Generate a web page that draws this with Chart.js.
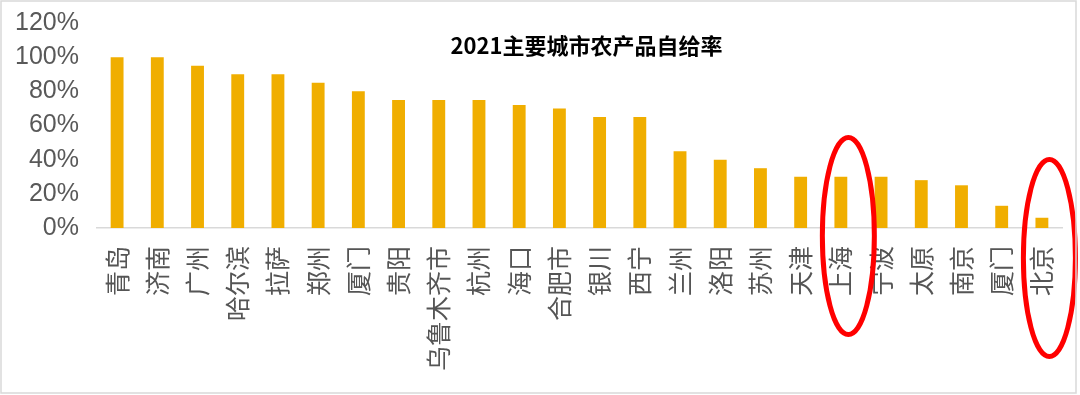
<!DOCTYPE html>
<html>
<head>
<meta charset="utf-8">
<script src="https://cdn.jsdelivr.net/npm/chart.js@4"></script>
<style>
  html, body { margin: 0; padding: 0; background: #fff; }
  #wrap { width: 1080px; height: 395px; position: relative; }
</style>
</head>
<body>
<div id="wrap"><canvas id="myChart" width="1080" height="395"></canvas></div>
<script>
// data
const cities = ['青岛', '济南', '广州', '哈尔滨', '拉萨', '郑州', '厦门', '贵阳', '乌鲁木齐市', '杭州', '海口', '合肥市',
    '银川', '西宁', '兰州', '洛阳', '苏州', '天津', '上海', '宁波', '太原', '南京', '厦门', '北京'];
const selfRate = [100, 100, 95, 90, 90, 85, 80, 75, 75, 75, 72, 70,
    65, 65, 45, 40, 35, 30, 30, 30, 28, 25, 13, 6];
const yTicks = [0, 20, 40, 60, 80, 100, 120];
const chartTitle = '2021主要城市农产品自给率';
// cities circled in red
const highlighted = ['上海', '北京'];

const ctx = document.getElementById('myChart').getContext('2d');

// title, red ellipses and outer frame
const extras = {
    id: 'extras',
    afterDraw(chart) {
        const c = chart.ctx;
        const xs = chart.scales.x;
        const ys = chart.scales.y;
        const area = chart.chartArea;

        c.save();
        c.fillStyle = '#000';
        c.font = 'bold 22px "Noto Sans CJK SC", sans-serif';
        c.textAlign = 'center';
        c.textBaseline = 'middle';
        c.fillText(chartTitle, (area.left + area.right) / 2 + 7, ys.getPixelForValue(106.5));

        c.strokeStyle = '#ff0000';
        c.lineWidth = 5;
        highlighted.forEach(name => {
            const i = cities.lastIndexOf(name);
            const cx = xs.getPixelForValue(i) + 7.5;
            const cy = ys.getPixelForValue(0) + 8 + (i === cities.length - 1 ? 22 : 0);
            c.beginPath();
            c.ellipse(cx, cy, 26, 98.5, 0, 0, Math.PI * 2);
            c.stroke();
        });

        c.strokeStyle = '#d9d9d9';
        c.lineWidth = 1.5;
        c.strokeRect(1, 1, 1075, 392);
        c.restore();
    }
};

const data = {
    labels: cities,
    datasets: [{
        label: chartTitle,
        data: selfRate,
        backgroundColor: '#f0ae00',
        barPercentage: 0.32,
        categoryPercentage: 1
    }]
};

const config = {
    type: 'bar',
    data: data,
    options: {
        responsive: false,
        animation: false,
        layout: { padding: { left: 0, right: 18, top: 23, bottom: 0 } },
        plugins: {
            legend: { display: false },
            tooltip: { enabled: false }
        },
        scales: {
            x: {
                grid: { display: false, drawTicks: false },
                border: { display: true, color: '#d9d9d9', width: 1.5 },
                ticks: {
                    color: '#555555',
                    font: { family: '"Noto Sans CJK SC", sans-serif', size: 25 },
                    minRotation: 90,
                    maxRotation: 90,
                    autoSkip: false,
                    padding: 18
                },
                afterFit(scale) {
                    scale.height = 167;
                    scale.paddingLeft = 0;
                    scale.paddingRight = 0;
                }
            },
            y: {
                min: 0,
                max: 120,
                afterBuildTicks(scale) { scale.ticks = yTicks.map(v => ({ value: v })); },
                grid: { display: false, drawTicks: false },
                border: { display: false },
                ticks: {
                    color: '#595959',
                    font: { family: '"Liberation Sans", Arial, sans-serif', size: 25 },
                    padding: 18,
                    autoSkip: false,
                    callback: v => v + '%'
                },
                afterFit(scale) {
                    scale.width = 97;
                    scale.paddingTop = 0;
                    scale.paddingBottom = 0;
                }
            }
        }
    },
    plugins: [extras]
};

const chart = new Chart(ctx, config);
</script>
</body>
</html>
